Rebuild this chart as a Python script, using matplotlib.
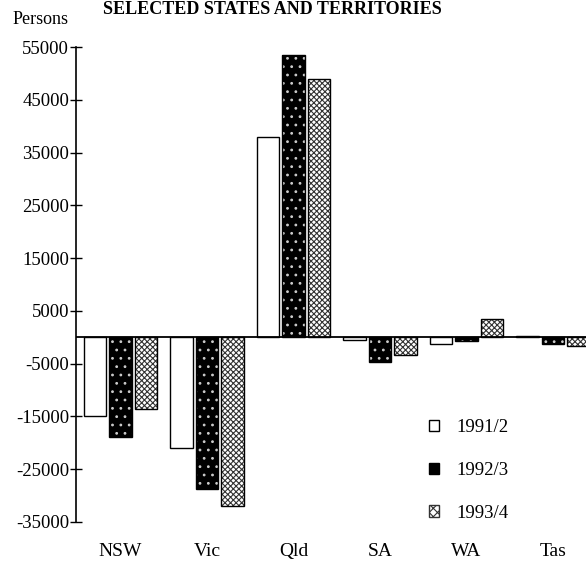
import matplotlib
matplotlib.use("Agg")
import matplotlib.pyplot as plt
import numpy as np
from matplotlib.patches import Patch

states = ["NSW", "Vic", "Qld", "SA", "WA", "Tas"]
years = ["1991/2", "1992/3", "1993/4"]
v1991 = [-15000, -21000, 38000, -600, -1200, 200]
v1992 = [-18900, -28700, 53500, -4650, -650, -1300]
v1993 = [-13500, -31900, 48900, -3400, 3450, -1700]
yticks = [55000, 45000, 35000, 25000, 15000, 5000, -5000, -15000, -25000, -35000]

plt.rcParams['font.family'] = ['Liberation Serif', 'DejaVu Serif']
plt.rcParams['hatch.linewidth'] = 0.8

fig = plt.figure(figsize=(5.86, 5.65), dpi=100)
ax = fig.add_axes([76/586, 1-522/565, 510/586, 475/565])

x = np.arange(len(states))
w = 0.26
off = 0.295
pat = 'xxxxxx'

# 1991/2 white
ax.bar(x - off, v1991, w, facecolor='white', edgecolor='black', linewidth=1.0)
# 1992/3 black with small white dots
ax.bar(x, v1992, w, facecolor='black', edgecolor='#cccccc', hatch='..', linewidth=0)
ax.bar(x, v1992, w, fill=False, edgecolor='black', linewidth=1.0)
# 1993/4 dense checker
ax.bar(x + off, v1993, w, facecolor='white', edgecolor='#333333', hatch=pat, linewidth=0)
ax.bar(x + off, v1993, w, fill=False, edgecolor='black', linewidth=1.0)

ax.axhline(0, color='black', linewidth=1.3)

ax.set_xlim(-0.514, 5.38)
ax.set_ylim(-35000, 55000)
ax.set_yticks(yticks)
ax.set_yticklabels([f"{t}" if t >= 0 else f"-{abs(t)}" for t in yticks], fontsize=13.5)
ax.set_xticks(x)
ax.set_xticklabels(states, fontsize=14)
ax.tick_params(axis='x', length=0, pad=15)
ax.tick_params(axis='y', direction='inout', length=8, width=1.0, pad=1)
for s in ['top', 'right', 'bottom']:
    ax.spines[s].set_visible(False)
ax.spines['left'].set_linewidth(1.2)

fig.text(272/586, 1-10/565, "SELECTED STATES AND TERRITORIES", ha='center', va='center',
         fontsize=13, fontweight='bold')
fig.text(13/586, 1-19/565, "Persons", ha='left', va='center', fontsize=13)

handles = [Patch(facecolor='white', edgecolor='black', linewidth=1.0),
           Patch(facecolor='black', edgecolor='black', linewidth=1.0),
           Patch(facecolor='white', edgecolor='#333333', hatch='xxxx', linewidth=1.0)]
leg = ax.legend(handles, years, loc='upper left', bbox_to_anchor=(429/586, 1-419/565),
                bbox_transform=fig.transFigure, frameon=False, fontsize=13.5,
                handlelength=0.55, handleheight=0.55, labelspacing=1.38, handletextpad=0.9,
                borderpad=0, borderaxespad=0)

fig.savefig("out.png", dpi=100)
